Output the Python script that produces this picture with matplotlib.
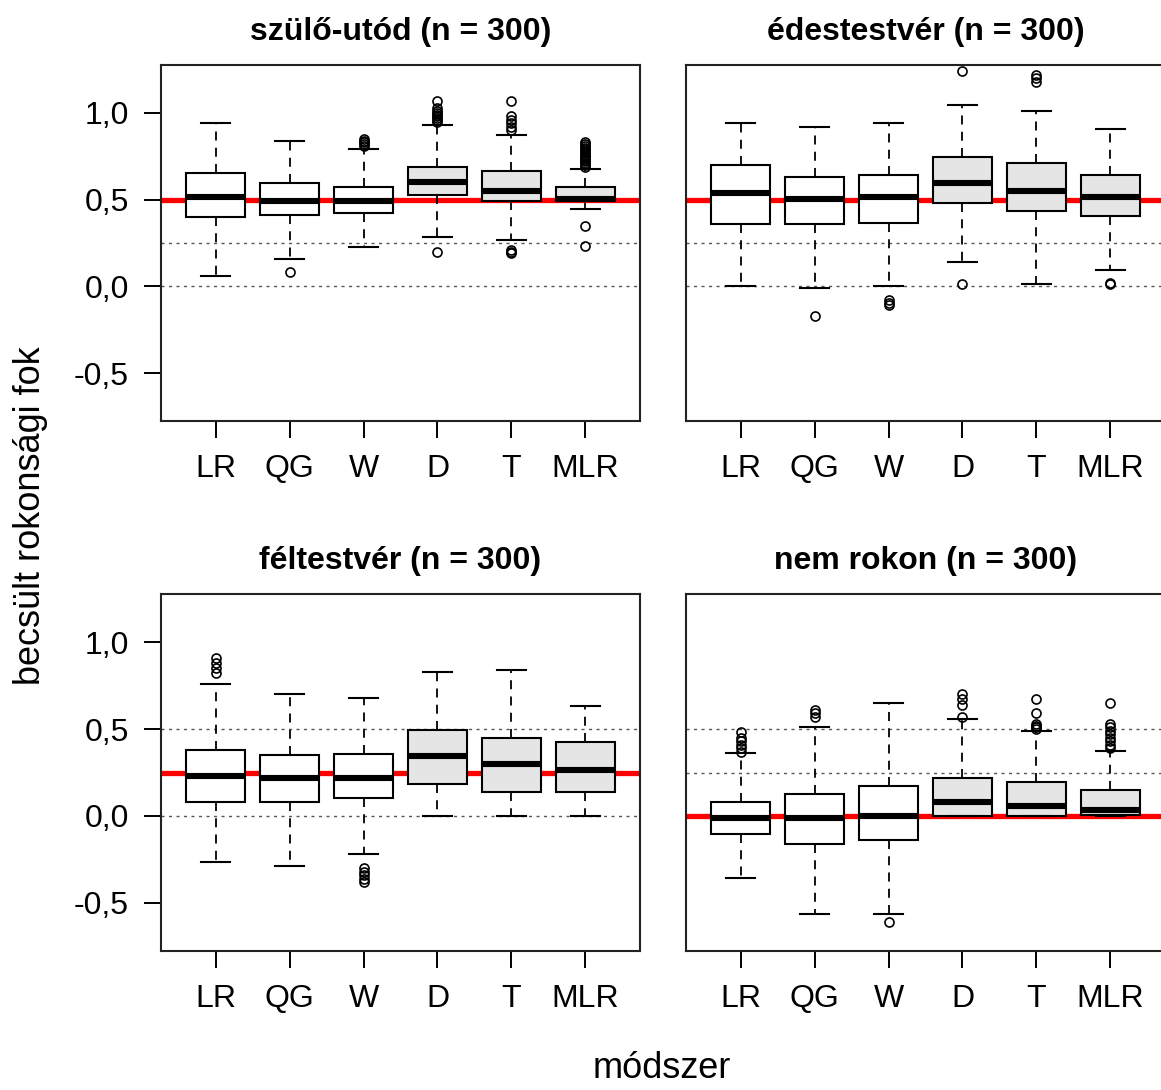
import matplotlib
matplotlib.use("Agg")
import matplotlib.pyplot as plt

plt.rcParams['font.family'] = ['Liberation Sans', 'DejaVu Sans']

methods = ["LR", "QG", "W", "D", "T", "MLR"]
titles = ["szülő-utód (n = 300)", "édestestvér (n = 300)",
          "féltestvér (n = 300)", "nem rokon (n = 300)"]
true_values = [0.5, 0.5, 0.25, 0.0]
dotted_levels = [[0.0, 0.25], [0.0, 0.25], [0.0, 0.5], [0.25, 0.5]]
y_ticks = [-0.5, 0.0, 0.5, 1.0]
y_tick_labels = ["-0,5", "0,0", "0,5", "1,0"]

# per panel: whislo, q1, med, q3, whishi, fliers (per method)
p1_whislo = [0.057, 0.160, 0.229, 0.286, 0.265, 0.448]
p1_q1 = [0.401, 0.412, 0.424, 0.527, 0.494, 0.494]
p1_med = [0.517, 0.494, 0.494, 0.599, 0.552, 0.505]
p1_q3 = [0.655, 0.597, 0.574, 0.689, 0.666, 0.574]
p1_whishi = [0.943, 0.840, 0.792, 0.929, 0.872, 0.679]
p1_fliers = [[], [0.08], [0.81, 0.82, 0.83, 0.84, 0.85],
             [0.95, 0.96, 0.97, 0.98, 0.99, 1.00, 1.01, 1.03, 1.07, 0.20],
             [0.90, 0.92, 0.94, 0.96, 0.98, 1.07, 0.19, 0.20, 0.21],
             [0.69, 0.70, 0.71, 0.72, 0.73, 0.74, 0.75, 0.76, 0.77, 0.78,
              0.79, 0.80, 0.81, 0.82, 0.83, 0.35, 0.23]]

p2_whislo = [0.0, -0.01, 0.0, 0.139, 0.011, 0.094]
p2_q1 = [0.357, 0.357, 0.366, 0.481, 0.435, 0.403]
p2_med = [0.540, 0.506, 0.517, 0.597, 0.552, 0.517]
p2_q3 = [0.700, 0.632, 0.643, 0.746, 0.710, 0.643]
p2_whishi = [0.943, 0.918, 0.943, 1.044, 1.010, 0.906]
p2_fliers = [[], [-0.172], [-0.08, -0.095, -0.11], [1.24, 0.013],
             [1.18, 1.20, 1.22], [0.02, 0.015]]

p3_whislo = [-0.264, -0.287, -0.218, 0.0, 0.0, 0.0]
p3_q1 = [0.082, 0.082, 0.103, 0.185, 0.140, 0.140]
p3_med = [0.231, 0.220, 0.220, 0.346, 0.300, 0.266]
p3_q3 = [0.380, 0.348, 0.358, 0.495, 0.449, 0.426]
p3_whishi = [0.757, 0.702, 0.679, 0.828, 0.839, 0.631]
p3_fliers = [[0.82, 0.85, 0.88, 0.91], [], [-0.30, -0.32, -0.34, -0.36, -0.38],
             [], [], []]

p4_whislo = [-0.356, -0.563, -0.563, 0.0, 0.0, 0.0]
p4_q1 = [-0.106, -0.162, -0.138, 0.002, 0.0, 0.006]
p4_med = [-0.010, -0.010, 0.002, 0.083, 0.060, 0.037]
p4_q3 = [0.083, 0.129, 0.175, 0.221, 0.198, 0.152]
p4_whishi = [0.360, 0.510, 0.648, 0.556, 0.487, 0.371]
p4_fliers = [[0.37, 0.39, 0.41, 0.43, 0.45, 0.48], [0.57, 0.59, 0.61], [-0.61],
             [0.57, 0.64, 0.67, 0.70], [0.50, 0.51, 0.52, 0.53, 0.59, 0.67],
             [0.39, 0.41, 0.43, 0.45, 0.47, 0.49, 0.51, 0.53, 0.65]]

panels = [
    (p1_whislo, p1_q1, p1_med, p1_q3, p1_whishi, p1_fliers),
    (p2_whislo, p2_q1, p2_med, p2_q3, p2_whishi, p2_fliers),
    (p3_whislo, p3_q1, p3_med, p3_q3, p3_whishi, p3_fliers),
    (p4_whislo, p4_q1, p4_med, p4_q3, p4_whishi, p4_fliers),
]

W, H = 1161, 1090
fig = plt.figure(figsize=(W / 100, H / 100), dpi=100)

# pixel rects: left, top, width, height
rects = [(161, 65, 479, 356), (686, 65, 479, 356),
         (161, 594, 479, 357), (686, 594, 479, 357)]

fills = ["white", "white", "white", "#E5E5E5", "#E5E5E5", "#E5E5E5"]
FS = 23
FS_LAB = 26

for i, (rect, pdata) in enumerate(zip(rects, panels)):
    l, t, w, h = rect
    ax = fig.add_axes([l / W, 1 - (t + h) / H, w / W, h / H])
    ax.set_xlim(0.26, 6.74)
    ax.set_ylim(-0.776, 1.276)
    wl, q1, md, q3, wh, fl = pdata
    stats = []
    for k in range(6):
        stats.append(dict(med=md[k], q1=q1[k], q3=q3[k], whislo=wl[k],
                          whishi=wh[k], fliers=fl[k], label=methods[k]))
    for lev in dotted_levels[i]:
        ax.axhline(lev, color="#555555", lw=1.0, ls=(0, (2.2, 3.2)), zorder=1)
    ax.axhline(true_values[i], color="#FF0000", lw=3.8, zorder=2)
    bp = ax.bxp(stats, positions=range(1, 7), widths=0.8, patch_artist=True,
                capwidths=0.4, showfliers=True,
                boxprops=dict(edgecolor="black", linewidth=1.5),
                medianprops=dict(color="black", linewidth=4.4, solid_capstyle="butt"),
                whiskerprops=dict(color="black", linewidth=1.3, linestyle=(0, (5, 4))),
                capprops=dict(color="black", linewidth=1.5),
                flierprops=dict(marker="o", markerfacecolor="none",
                                markeredgecolor="black", markersize=6.5,
                                markeredgewidth=1.2, linestyle="none"),
                zorder=3)
    for patch, c in zip(bp["boxes"], fills):
        patch.set_facecolor(c)
    ax.set_xticks(range(1, 7))
    ax.set_xticklabels(methods, fontsize=FS)
    ax.tick_params(axis="x", length=12, width=1.4, pad=12, color="black")
    if i % 2 == 0:
        ax.set_yticks(y_ticks)
        ax.set_yticklabels(y_tick_labels, fontsize=FS)
        ax.tick_params(axis="y", length=12, width=1.4, pad=11)
    else:
        ax.set_yticks([])
    for s in ax.spines.values():
        s.set_linewidth(1.5)
        s.set_color("#222222")
    ax.set_title(titles[i], fontsize=FS, fontweight="bold", pad=18)

fig.text(31 / W, 1 - 516 / H, "becsült rokonsági fok", rotation=90,
         ha="center", va="center", fontsize=FS_LAB)
fig.text(662 / W, 1 - 1068 / H, "módszer", ha="center", va="center", fontsize=FS_LAB)

fig.savefig("out.png", dpi=100)
